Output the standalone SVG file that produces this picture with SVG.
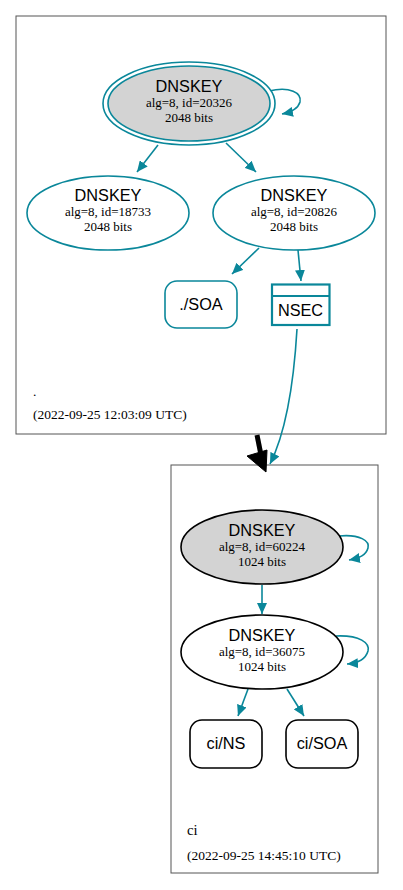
<svg xmlns="http://www.w3.org/2000/svg" width="403" height="890" viewBox="0 0 403 890">
<style>
.cl{fill:#fff;stroke:#555;stroke-width:1}
.t{stroke:#0a879a;stroke-width:1.6;fill:none}
.tn{fill:#fff;stroke:#0a879a;stroke-width:1.6}
.bn{fill:#fff;stroke:#000;stroke-width:1.6}
.h{font-family:"Liberation Sans",Arial,sans-serif;font-size:16.3px;text-anchor:middle;fill:#000}
.s{font-family:"Liberation Serif","Times New Roman",serif;font-size:13px;text-anchor:middle;fill:#000}
.lab{font-family:"Liberation Serif","Times New Roman",serif;font-size:13.5px;fill:#000}
</style>
<defs>
<marker id="a" markerUnits="userSpaceOnUse" markerWidth="12" markerHeight="10" refX="11" refY="5" orient="auto"><path d="M0,0 L11,5 L0,10 Z" fill="#0a879a"/></marker>
</defs>
<rect width="403" height="890" fill="#fff"/>
<g id="cluster-root">
<rect class="cl" x="16" y="16" width="370" height="418"/>
<text class="lab" x="33" y="396">.</text>
<text class="lab" x="33" y="419">(2022-09-25 12:03:09 UTC)</text>
</g>
<g id="cluster-ci">
<rect class="cl" x="171" y="465" width="207" height="408"/>
<text class="lab" x="187" y="835" style="font-size:14.7px">ci</text>
<text class="lab" x="187" y="860">(2022-09-25 14:45:10 UTC)</text>
</g>
<g id="edges">
<path class="t" d="M269,91 C290,86 302,93 300,102 C298,109 292,112 282,114" marker-end="url(#a)"/>
<path class="t" d="M158,145 L137,172" marker-end="url(#a)"/>
<path class="t" d="M226,143 L256,172" marker-end="url(#a)"/>
<path class="t" d="M259,248 L232,274" marker-end="url(#a)"/>
<path class="t" d="M298,250 L301,281" marker-end="url(#a)"/>
<path class="t" d="M297,329 C294,380 287,430 270,464" marker-end="url(#a)"/>
<path d="M257,435 L261,455" stroke="#000" stroke-width="5" fill="none"/>
<polygon points="247,456 267,450 266,472" fill="#000" stroke="#000" stroke-width="1"/>
<path class="t" d="M339,536 C360,534 370,541 368,548 C366,555 360,558 349,560" marker-end="url(#a)"/>
<path class="t" d="M262,585 L262,614" marker-end="url(#a)"/>
<path class="t" d="M336,636 C360,635 370,643 368,651 C366,658 360,663 347,664" marker-end="url(#a)"/>
<path class="t" d="M248,689 L238,716" marker-end="url(#a)"/>
<path class="t" d="M287,689 L304,716" marker-end="url(#a)"/>
</g>
<g id="dnskey-20326">
<ellipse class="tn" cx="189" cy="103.5" rx="86" ry="41.5"/>
<ellipse cx="189" cy="103.5" rx="81" ry="37.5" fill="#d3d3d3" stroke="#0a879a" stroke-width="1.6"/>
<text class="h" x="189" y="92">DNSKEY</text>
<text class="s" x="189" y="107">alg=8, id=20326</text>
<text class="s" x="189" y="122">2048 bits</text>
</g>
<g id="dnskey-18733">
<ellipse class="tn" cx="108" cy="213" rx="81" ry="37"/>
<text class="h" x="108" y="201">DNSKEY</text>
<text class="s" x="108" y="216">alg=8, id=18733</text>
<text class="s" x="108" y="231">2048 bits</text>
</g>
<g id="dnskey-20826">
<ellipse class="tn" cx="294" cy="213" rx="81" ry="37"/>
<text class="h" x="294" y="201">DNSKEY</text>
<text class="s" x="294" y="216">alg=8, id=20826</text>
<text class="s" x="294" y="231">2048 bits</text>
</g>
<g id="soa-root">
<rect class="tn" x="165" y="281" width="72" height="47" rx="12"/>
<text class="h" x="201" y="310">./SOA</text>
</g>
<g id="nsec-root">
<rect x="272" y="284.5" width="57.5" height="40.5" fill="#fff" stroke="#0a879a" stroke-width="2.2"/>
<line x1="272" y1="296" x2="329.5" y2="296" stroke="#0a879a" stroke-width="2.2"/>
<text class="h" x="300.5" y="316">NSEC</text>
</g>
<g id="dnskey-60224">
<ellipse cx="262" cy="547" rx="81" ry="37" fill="#d3d3d3" stroke="#000" stroke-width="1.6"/>
<text class="h" x="262" y="536">DNSKEY</text>
<text class="s" x="262" y="551">alg=8, id=60224</text>
<text class="s" x="262" y="566">1024 bits</text>
</g>
<g id="dnskey-36075">
<ellipse class="bn" cx="262" cy="652" rx="81" ry="37"/>
<text class="h" x="262" y="641">DNSKEY</text>
<text class="s" x="262" y="656">alg=8, id=36075</text>
<text class="s" x="262" y="671">1024 bits</text>
</g>
<g id="ci-ns">
<rect class="bn" x="190" y="720" width="72" height="48" rx="12"/>
<text class="h" x="226" y="749">ci/NS</text>
</g>
<g id="ci-soa">
<rect class="bn" x="286" y="720" width="72" height="48" rx="12"/>
<text class="h" x="322" y="749">ci/SOA</text>
</g>
</svg>
